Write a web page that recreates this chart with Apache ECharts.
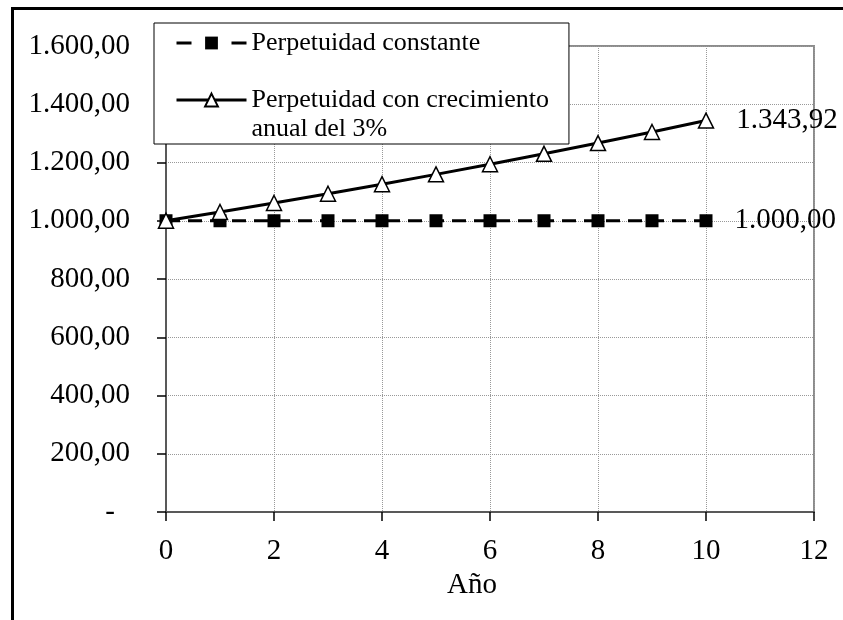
<!DOCTYPE html>
<html><head><meta charset="utf-8">
<script src="https://cdn.jsdelivr.net/npm/echarts@6/dist/echarts.min.js"></script>
<style>html,body{margin:0;padding:0;background:#fff}#c{width:843px;height:620px}</style>
</head><body><div id="c"></div>
<script>
const years = [0, 1, 2, 3, 4, 5, 6, 7, 8, 9, 10];
const constante = [1000, 1000, 1000, 1000, 1000, 1000, 1000, 1000, 1000, 1000, 1000];
const crecimiento = [1000.00, 1030.00, 1060.90, 1092.73, 1125.51, 1159.27, 1194.05, 1229.87, 1266.77, 1304.77, 1343.92];
const seriesNames = ['Perpetuidad constante', 'Perpetuidad con crecimiento anual del 3%'];
const legendLines = [['Perpetuidad constante'], ['Perpetuidad con crecimiento', 'anual del 3%']];
const xAxisTitle = 'Año';

const FONT = '"Liberation Serif", "DejaVu Serif", serif';

function fmtNum(v) {
  const parts = v.toFixed(2).split('.');
  const int = parts[0].replace(/\B(?=(\d{3})+(?!\d))/g, '.');
  return int + ',' + parts[1];
}

function lastLabel() {
  return {
    show: true, position: 'right', distance: 22,
    formatter: p => fmtNum(p.value[1]),
    fontFamily: FONT, fontSize: 29, color: '#000'
  };
}

function buildData(vals) {
  return years.map((x, i) => i === years.length - 1
    ? { value: [x, vals[i]], label: lastLabel() }
    : [x, vals[i]]);
}

function legendFormatter(name) {
  const lines = legendLines[seriesNames.indexOf(name)];
  if (lines.length === 1) return '{t|' + lines[0] + '}';
  // one empty line on top keeps the icon level with the first text line
  return '{e| }\n' + lines.map(l => '{t|' + l + '}').join('\n');
}

const chart = echarts.init(document.getElementById('c'), null, { renderer: 'canvas' });
chart.setOption({
  animation: false,
  backgroundColor: '#fff',
  textStyle: { fontFamily: FONT },
  grid: { left: 166, right: 29, top: 46, bottom: 108, containLabel: false, outerBoundsMode: 'none',
          show: true, borderColor: '#8c8c8c', borderWidth: 2, backgroundColor: 'transparent' },
  graphic: [{
    type: 'rect', silent: true, z: 100,
    shape: { x: 12.5, y: 8.5, width: 1000, height: 1000 },
    style: { fill: 'none', stroke: '#000', lineWidth: 3 }
  }],
  legend: {
    orient: 'vertical', left: 154, top: 23,
    backgroundColor: '#fff', borderColor: '#000', borderWidth: 1,
    padding: [7, 20, 2, 21], itemGap: 2,
    itemWidth: 70, itemHeight: 16,
    formatter: legendFormatter,
    textStyle: {
      fontFamily: FONT, fontSize: 26, color: '#000',
      rich: {
        t: { fontFamily: FONT, fontSize: 26, color: '#000', lineHeight: 29 },
        e: { fontFamily: FONT, fontSize: 26, lineHeight: 29 }
      }
    },
    data: [
      { name: seriesNames[0], lineStyle: { color: '#000', width: 3, type: [15, 40] } },
      { name: seriesNames[1], lineStyle: { color: '#000', width: 3, type: 'solid' } }
    ]
  },
  xAxis: {
    type: 'value', min: 0, max: 12, interval: 2,
    name: xAxisTitle, nameLocation: 'middle', nameGap: 56,
    nameTextStyle: { fontFamily: FONT, fontSize: 29, color: '#000', padding: [0, 36, 0, 0] },
    axisLine: { show: true, onZero: false, lineStyle: { color: '#595959', width: 2 } },
    axisTick: { show: true, inside: false, length: 9, lineStyle: { color: '#000', width: 1.5 } },
    axisLabel: { margin: 25, fontFamily: FONT, fontSize: 29, color: '#000' },
    splitLine: { show: true, lineStyle: { color: '#999', width: 1, type: 'dotted' } }
  },
  yAxis: {
    type: 'value', min: 0, max: 1600, interval: 200,
    axisLine: { show: true, lineStyle: { color: '#595959', width: 2 } },
    axisTick: { show: true, inside: false, length: 9, lineStyle: { color: '#000', width: 1.5 } },
    axisLabel: {
      margin: 36, fontFamily: FONT, fontSize: 29, color: '#000',
      formatter: v => v === 0 ? '{d|-}' : fmtNum(v),
      rich: { d: { fontFamily: FONT, fontSize: 29, color: '#000', padding: [0, 15, 0, 0] } }
    },
    splitLine: { show: true, lineStyle: { color: '#999', width: 1, type: 'dotted' } }
  },
  series: [
    {
      name: seriesNames[0], type: 'line', data: buildData(constante),
      symbol: 'rect', symbolSize: 13,
      itemStyle: { color: '#000' },
      lineStyle: { color: '#000', width: 3, type: [14, 8] },
      z: 2
    },
    {
      name: seriesNames[1], type: 'line', data: buildData(crecimiento),
      symbol: 'triangle', symbolSize: 15,
      itemStyle: { color: '#fff', borderColor: '#000', borderWidth: 1.5 },
      lineStyle: { color: '#000', width: 3 },
      z: 3
    }
  ]
});
</script></body></html>
